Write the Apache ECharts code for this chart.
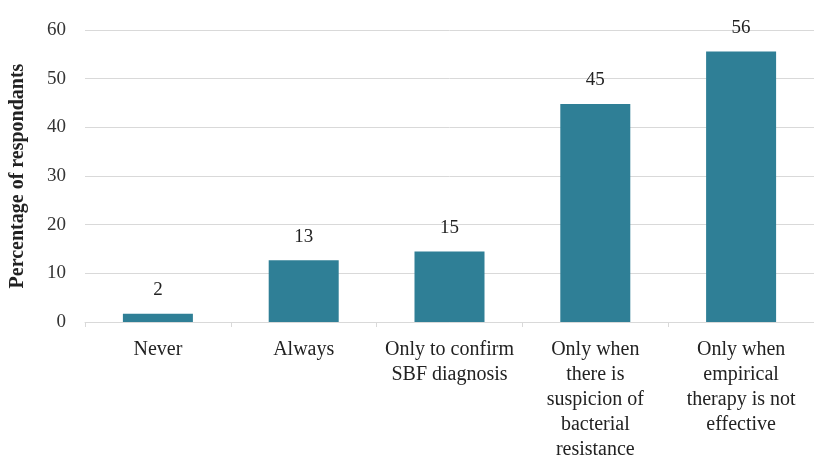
<!DOCTYPE html>
<html>
<head>
<meta charset="utf-8">
<script src="https://cdn.jsdelivr.net/npm/echarts@6/dist/echarts.min.js"></script>
<style>
  html, body { margin: 0; padding: 0; background: #fff; }
  #chart { width: 814px; height: 462px; }
</style>
</head>
<body>
<div id="chart"></div>
<script>
const categories = [
  "Never",
  "Always",
  "Only to confirm\nSBF diagnosis",
  "Only when\nthere is\nsuspicion of\nbacterial\nresistance",
  "Only when\nempirical\ntherapy is not\neffective"
];
// bar heights as drawn, and the printed labels
const values = [1.7, 12.7, 14.5, 44.8, 55.6];
const valueLabels = ["2", "13", "15", "45", "56"];
const yTicks = { min: 0, max: 60, interval: 10 };

const font = "'Liberation Serif', 'DejaVu Serif', serif";
const chart = echarts.init(document.getElementById("chart"));

chart.setOption({
  animation: false,
  grid: { left: 83, width: 737, top: 30, height: 295, containLabel: false },
  xAxis: {
    type: "category",
    data: categories,
    axisLine: { lineStyle: { color: "#d9d9d9", width: 1 } },
    axisTick: { show: true, length: 5, lineStyle: { color: "#d9d9d9" } },
    axisLabel: {
      color: "#222",
      fontFamily: font,
      fontSize: 20,
      lineHeight: 25,
      margin: 15,
      interval: 0
    }
  },
  yAxis: {
    type: "value",
    min: yTicks.min,
    max: yTicks.max,
    interval: yTicks.interval,
    name: "Percentage of respondants",
    nameLocation: "middle",
    nameGap: 57,
    nameTextStyle: { color: "#222", fontFamily: font, fontSize: 20, fontWeight: "bold" },
    axisLine: { show: false },
    axisTick: { show: false },
    axisLabel: { color: "#333", fontFamily: font, fontSize: 19, margin: 19 },
    splitLine: { lineStyle: { color: "#d9d9d9", width: 1 } }
  },
  series: [{
    type: "bar",
    data: values,
    barWidth: 70,
    itemStyle: { color: "#2f7f96" },
    label: {
      show: true,
      position: "top",
      distance: 14,
      color: "#222",
      fontFamily: font,
      fontSize: 19,
      formatter: (p) => valueLabels[p.dataIndex]
    }
  }]
});
</script>
</body>
</html>
